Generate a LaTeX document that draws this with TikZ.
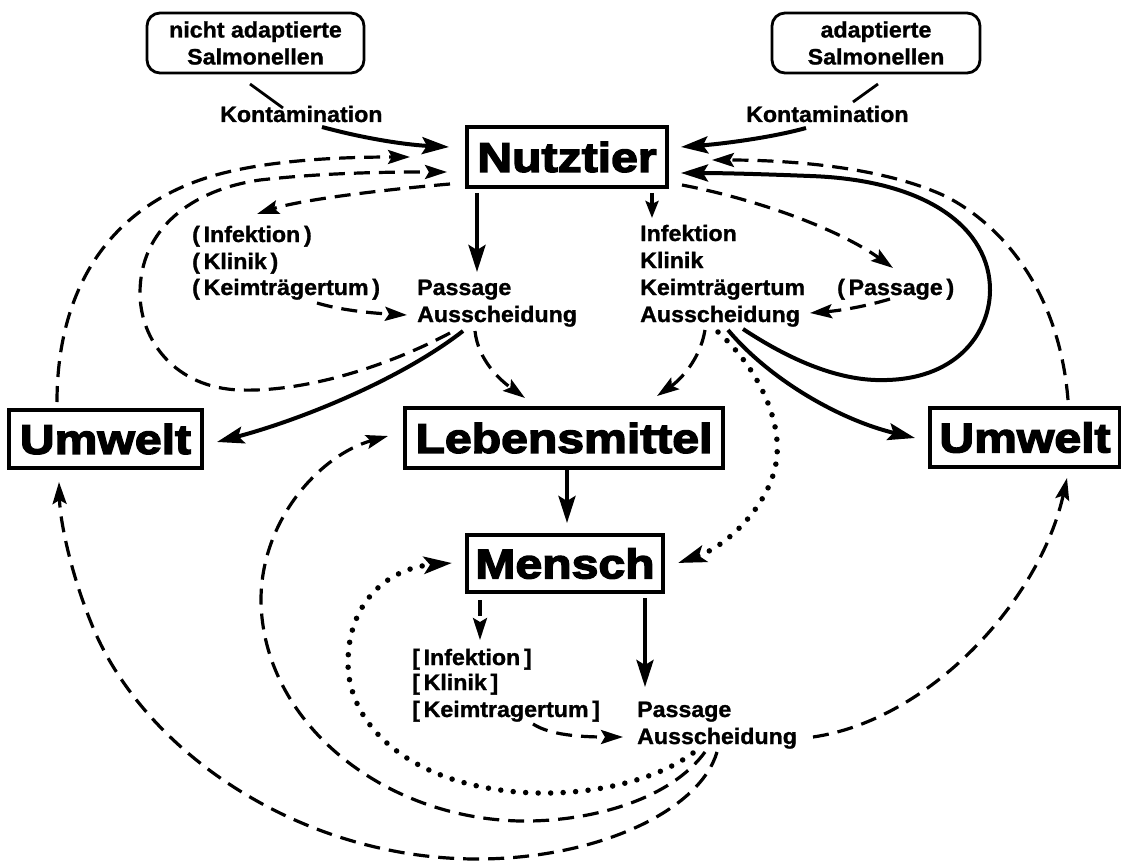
\documentclass[tikz,border=0pt]{standalone}
\usepackage{fontspec}
\setmainfont{Liberation Sans}[FakeStretch=1.04,BoldFeatures={FakeBold=1.2}]
\newfontfamily\bigfont{Liberation Sans}[FakeStretch=1.16,BoldFeatures={FakeBold=3.5}]
\usetikzlibrary{arrows.meta}
\begin{document}
\begin{tikzpicture}[x=1pt,y=-1pt,
  big/.style={draw,line width=3.2pt,inner sep=0pt,font=\bigfont\bfseries\fontsize{41.5}{41.5}\selectfont},
  rbox/.style={draw,line width=2.8pt,rounded corners=13pt,inner sep=0pt,align=center,font=\bfseries\fontsize{22.3}{27}\selectfont},
  lbl/.style={inner sep=0pt,anchor=base west,font=\bfseries\fontsize{22.3}{26}\selectfont},
  plain/.style={line width=2.8pt},
  sol/.style={line width=4pt,-{Stealth[length=27pt,width=17pt,inset=5pt]}},
  solsm/.style={line width=3.6pt,-{Stealth[length=17pt,width=13pt,inset=3pt]}},
  dsh/.style={line width=3.2pt,dash pattern=on 16pt off 9pt,-{Stealth[length=22pt,width=14pt,inset=4pt]}},
  dotl/.style={line width=5.5pt,line cap=round,dash pattern=on 0pt off 12.5pt,-{Stealth[length=28pt,width=17pt,inset=6pt]}},
]
\useasboundingbox (0,0) rectangle (1121,861);
\fill[white] (0,0) rectangle (1121,861);

% boxes
\node[rbox,minimum width=217pt,minimum height=60pt] (sl) at (255.5,43) {nicht adaptierte\\Salmonellen};
\node[rbox,minimum width=208pt,minimum height=60pt] (sr) at (876,43) {adaptierte\\Salmonellen};
\node[big,minimum width=200pt,minimum height=60pt] (nutz) at (567,157) {Nutztier};
\node[big,minimum width=318pt,minimum height=60pt] (leb) at (564,438) {Lebensmittel};
\node[big,minimum width=193pt,minimum height=58pt] (uml) at (105.5,439) {Umwelt};
\node[big,minimum width=190pt,minimum height=59pt] (umr) at (1025,437.5) {Umwelt};
\node[big,minimum width=196pt,minimum height=57pt] (men) at (565,563.5) {Mensch};

% labels
\node[lbl] (kl) at (220,122) {Kontamination};
\node[lbl] (kr) at (746,122) {Kontamination};
\node[lbl] (li1) at (192,242) {(\,Infektion\,)};
\node[lbl] (li2) at (192,269) {(\,Klinik\,)};
\node[lbl] (li3) at (192,295) {(\,Keimträgertum\,)};
\node[lbl] (lp1) at (417,295) {Passage};
\node[lbl] (lp2) at (417,322) {Ausscheidung};
\node[lbl] (ri1) at (640,241) {Infektion};
\node[lbl] (ri2) at (640,268) {Klinik};
\node[lbl] (ri3) at (640,295) {Keimträgertum};
\node[lbl] (ri4) at (640,322) {Ausscheidung};
\node[lbl] (rp) at (837,295) {(\,Passage\,)};
\node[lbl] (mi1) at (412,665) {[\,Infektion\,]};
\node[lbl] (mi2) at (412,690) {[\,Klinik\,]};
\node[lbl] (mi3) at (412,717) {[\,Keimtragertum\,]};
\node[lbl] (mp1) at (637,717) {Passage};
\node[lbl] (mp2) at (637,744) {Ausscheidung};

% named end points
\coordinate (slb) at (250,84);  \coordinate (klt) at (283,108);
\coordinate (klb) at (322,127); \coordinate (nutzW1) at (449,147);
\coordinate (srb) at (878,84);  \coordinate (krt) at (853,102);
\coordinate (krb) at (806,128); \coordinate (nutzE1) at (681,147);
\coordinate (umlN) at (57,402); \coordinate (nutzW0) at (410,157);
\coordinate (lpA) at (450,333); \coordinate (nutzW2) at (447,172);
\coordinate (nutzW3) at (450,184); \coordinate (li1t) at (257,214);
\coordinate (nutzS1) at (477,193); \coordinate (lp1t) at (477,272);
\coordinate (li3b) at (317,303); \coordinate (lp2w) at (407,315);
\coordinate (lpB) at (463,331); \coordinate (umlE) at (217,442);
\coordinate (lpC) at (475,331); \coordinate (lebNW) at (525,398);
\coordinate (nutzS2) at (652,193); \coordinate (ri1t) at (652,218);
\coordinate (nutzE3) at (682,185); \coordinate (rpt) at (893,268);
\coordinate (rpb) at (890,299); \coordinate (ri4e) at (810,313);
\coordinate (rA) at (743,329); \coordinate (nutzE2) at (681,173);
\coordinate (umrN) at (1068,400); \coordinate (nutzE0) at (712,160);
\coordinate (rB) at (728,330); \coordinate (umrW) at (915,438);
\coordinate (rC) at (705,330); \coordinate (lebNE) at (657,396);
\coordinate (rD) at (718,332); \coordinate (menE) at (678,563);
\coordinate (lebS) at (567,470); \coordinate (menN) at (567,523);
\coordinate (menS1) at (480,600); \coordinate (mi1t) at (480,640);
\coordinate (menS2) at (645,598); \coordinate (mp1t) at (645,687);
\coordinate (mi3b) at (533,724); \coordinate (mp2w) at (623,737);
\coordinate (mpE) at (813,737); \coordinate (umrS) at (1067,478);
\coordinate (mA) at (693,753); \coordinate (menW) at (452,563);
\coordinate (mB) at (705,752); \coordinate (lebW) at (388,436);
\coordinate (mC) at (717,752); \coordinate (umlS) at (59,482);

% Kontamination
\draw[plain] (slb) -- (klt);
\draw[sol] (klb) .. controls (370,140) and (410,145) .. (nutzW1);
\draw[plain] (srb) -- (krt);
\draw[sol] (krb) .. controls (770,138) and (720,144) .. (nutzE1);

% left side of Nutztier
\draw[dsh] (umlN) .. controls (57,300) and (100,215) .. (200,180) .. controls (257,160) and (340,157) .. (nutzW0);
\draw[dsh] (lpA) .. controls (380,370) and (300,392) .. (240,390) .. controls (175,388) and (140,340) .. (140,293) .. controls (140,230) and (190,190) .. (260,180) .. controls (330,172) and (400,172) .. (nutzW2);
\draw[dsh] (nutzW3) .. controls (380,190) and (300,200) .. (li1t);
\draw[sol] (nutzS1) -- (lp1t);
\draw[dsh] (li3b) .. controls (340,310) and (370,313) .. (lp2w);
\draw[sol] (lpB) .. controls (400,380) and (300,420) .. (umlE);
\draw[dsh] (lpC) .. controls (478,360) and (500,380) .. (lebNW);

% right side of Nutztier
\draw[solsm] (nutzS2) -- (ri1t);
\draw[dsh] (nutzE3) .. controls (760,200) and (840,230) .. (rpt);
\draw[dsh] (rpb) .. controls (860,308) and (835,311) .. (ri4e);
\draw[sol] (rA) .. controls (790,360) and (840,382) .. (887,380) .. controls (960,378) and (990,330) .. (990,290) .. controls (990,230) and (930,180) .. (810,176) .. controls (760,174) and (720,173) .. (nutzE2);
\draw[dsh] (umrN) .. controls (1060,300) and (1010,230) .. (947,197) .. controls (880,165) and (780,160) .. (nutzE0);
\draw[sol] (rB) .. controls (770,380) and (840,420) .. (umrW);
\draw[dsh] (rC) .. controls (700,360) and (680,380) .. (lebNE);
\draw[dotl] (rD) .. controls (760,370) and (780,420) .. (777,455) .. controls (774,500) and (730,545) .. (menE);

% centre and bottom
\draw[sol] (lebS) -- (menN);
\draw[dsh] (menS1) -- (mi1t);
\draw[sol] (menS2) -- (mp1t);
\draw[dsh] (mi3b) .. controls (550,735) and (580,737) .. (mp2w);
\draw[dsh] (mpE) .. controls (930,720) and (1040,600) .. (umrS);
\draw[dotl] (mA) .. controls (650,785) and (570,800) .. (500,790) .. controls (400,776) and (348,720) .. (348,663) .. controls (348,600) and (390,568) .. (menW);
\draw[dsh] (mB) .. controls (670,800) and (590,822) .. (520,821) .. controls (380,818) and (262,720) .. (261,600) .. controls (261,520) and (320,455) .. (lebW);
\draw[dsh] (mC) .. controls (700,810) and (600,858) .. (480,859) .. controls (300,860) and (140,750) .. (90,620) .. controls (70,570) and (60,520) .. (umlS);
\end{tikzpicture}
\end{document}
